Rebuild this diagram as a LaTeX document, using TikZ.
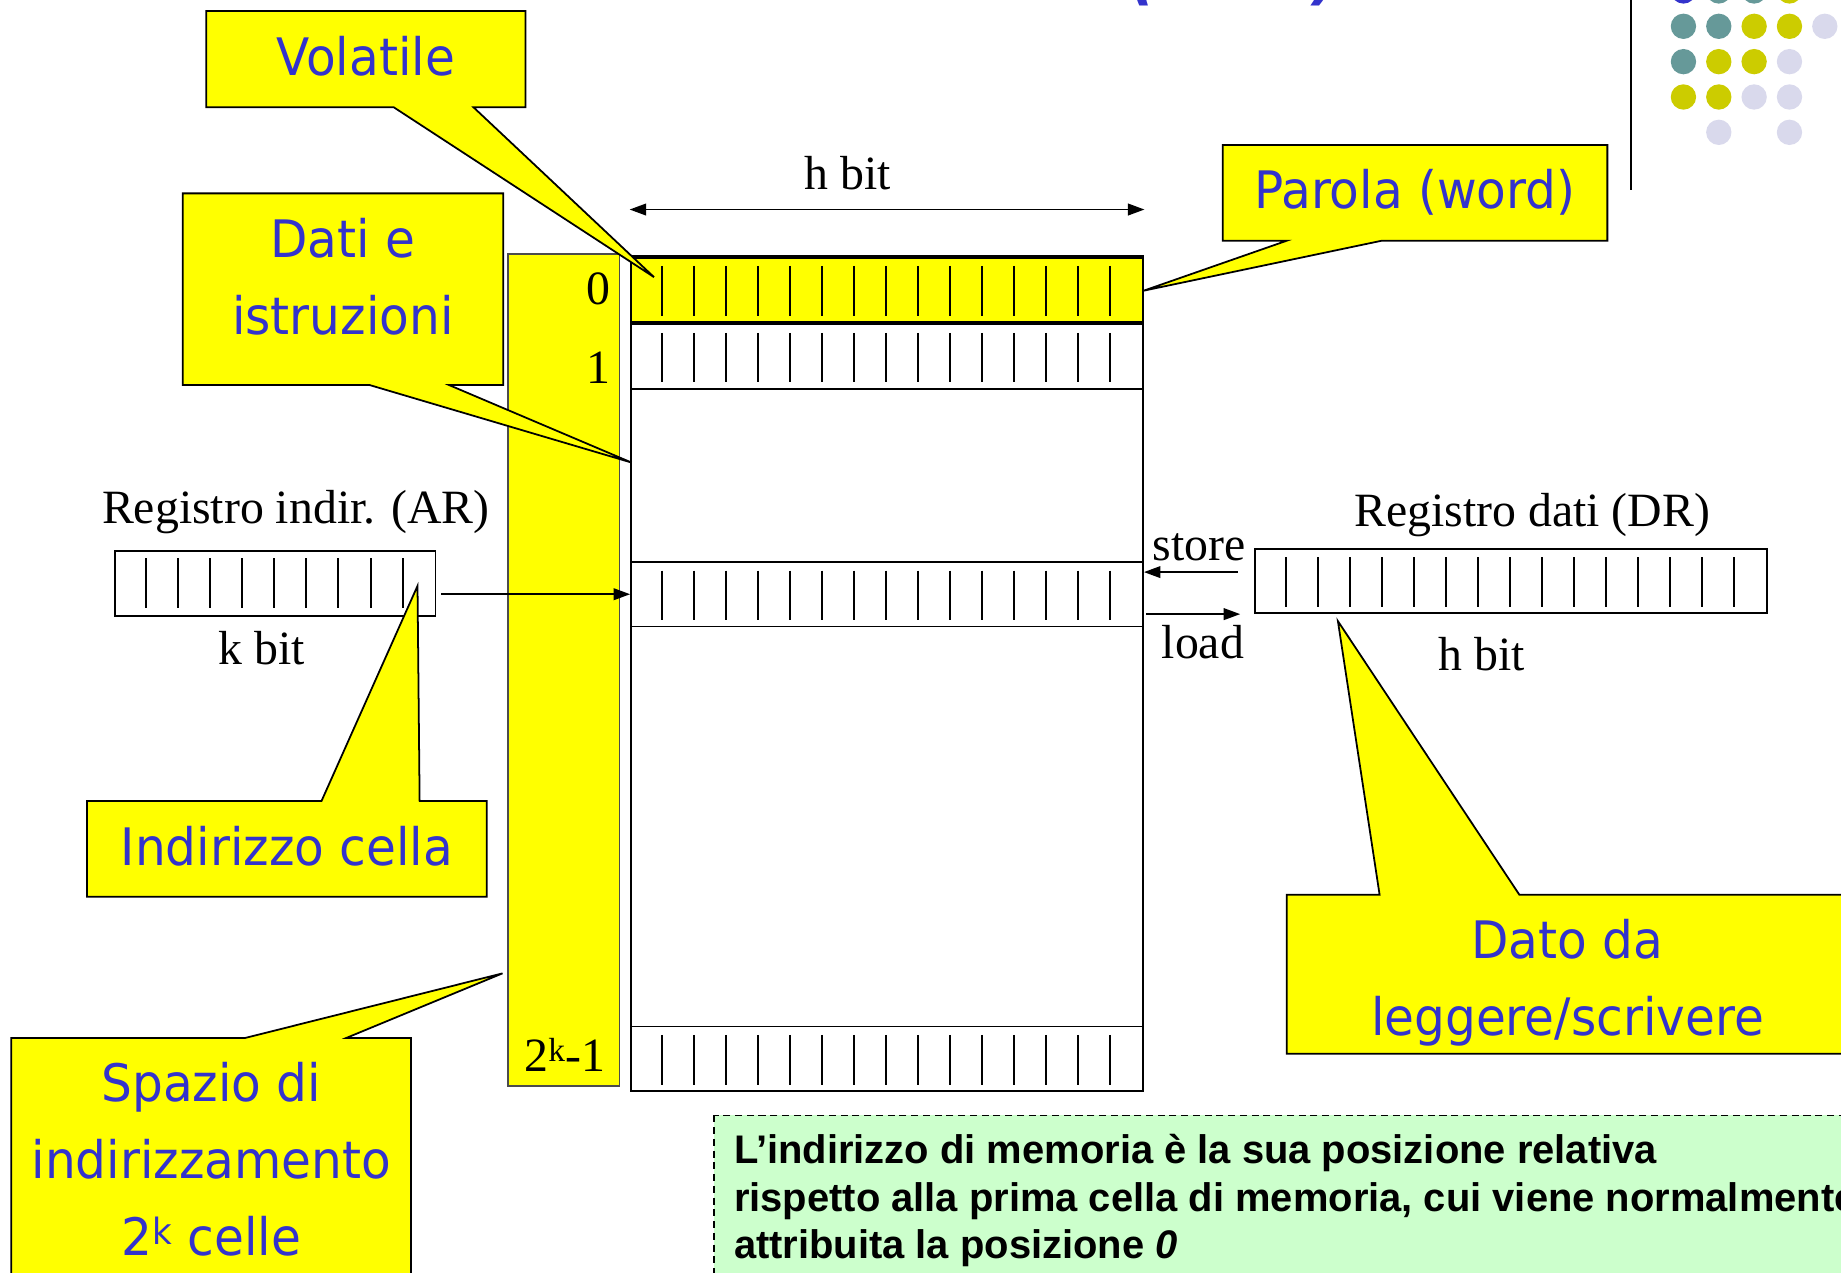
\documentclass[tikz,border=0pt]{standalone}
\usepackage{fontspec}
\setmainfont{Liberation Serif}
\newfontfamily\boxfont[FakeStretch=0.94]{DejaVu Sans}
\newfontfamily\notefont{Liberation Sans}
\usetikzlibrary{arrows.meta,positioning}
\definecolor{boxblue}{HTML}{3333CC}
\definecolor{hiyellow}{HTML}{FFFF00}
\definecolor{notegreen}{HTML}{CCFFCC}
\definecolor{dotteal}{HTML}{669999}
\definecolor{dotolive}{HTML}{CCCC00}
\definecolor{dotlilac}{HTML}{D9D9EC}
\begin{document}
\begin{tikzpicture}[x=1pt,y=-1pt,
    lbl/.style={font=\fontsize{40.7}{44}\selectfont,inner sep=0pt},
    reg/.style={draw,line width=1.5pt,minimum height=54.8pt,inner sep=0pt},
    bittick/.style={line width=1.7pt},
    callbox/.style={draw,fill=hiyellow,line width=1.5pt},
    calltext/.style={font=\boxfont\fontsize{44}{65.5}\selectfont,text=boxblue,align=center,inner sep=0pt},
    arr/.style={line width=1.3pt,>={Triangle[length=14pt,width=10pt]}}]
  \useasboundingbox (0,0) rectangle (1568,1084.2);
  \clip (0,0) rectangle (1568,1084.2);

  \node[font=\boxfont\bfseries\itshape\fontsize{55}{60}\selectfont,text=boxblue,anchor=base,inner sep=0pt]
    (title) at (1052,-2) {(RAM)};
  \draw[line width=2pt] (1389,0) -- (1389,162);
  \foreach \i/\j/\c in {0/0/boxblue,0/1/dotteal,0/2/dotteal,0/3/dotolive,
      1/0/dotteal,1/1/dotteal,1/2/dotolive,1/3/dotolive,1/4/dotlilac,
      2/0/dotteal,2/1/dotolive,2/2/dotolive,2/3/dotlilac,
      3/0/dotolive,3/1/dotolive,3/2/dotlilac,3/3/dotlilac,
      4/1/dotlilac,4/3/dotlilac}
    \fill[\c] (1433.8+30.1*\j,-7.7+30.1*\i) circle (10.8);

  \node[draw=black!70,fill=hiyellow,line width=1.3pt,minimum width=95pt,minimum height=708.6pt,inner sep=0pt]
    (addr) at (480,570.7) {};
  \node[draw,line width=1.5pt,minimum width=436.2pt,minimum height=709.8pt,inner sep=0pt]
    (mem) at (755.5,574.1) {};
  \node[reg,minimum width=436.2pt,fill=hiyellow,line width=2.2pt,anchor=north] (w0) at (mem.north) {};
  \node[reg,minimum width=436.2pt,below=0pt of w0] (w1) {};
  \node[reg,minimum width=436.2pt] (wi) at (755.5,506.1) {};
  \node[reg,minimum width=436.2pt,anchor=south] (wn) at (mem.south) {};
  \draw[line width=3pt] (w0.north west) -- (w0.north east);

  \node[reg,minimum width=272.7pt,minimum height=55.4pt] (ar) at (234.5,496.7) {};
  \node[reg,minimum width=436pt] (dr) at (1287,494.9) {};
  \foreach \r in {w0,w1,wi,wn,dr}
    \foreach \k in {1,...,15}
      \draw[bittick] ([xshift=\k*27.26pt,yshift=-8pt]\r.north west) -- ([xshift=\k*27.26pt,yshift=6pt]\r.south west);
  \foreach \k in {1,...,9}
    \draw[bittick] ([xshift=\k*27.27pt,yshift=-7pt]ar.north west) -- ([xshift=\k*27.27pt,yshift=7.5pt]ar.south west);

  \node[lbl,anchor=base east] (a0) at (520,259) {0};
  \node[lbl,anchor=base east] (a1) at (520,326.5) {1};
  \node[lbl,anchor=base east] (an) at (516,913) {2\textsuperscript{k}-1};
  \node[lbl,anchor=base] (hbit) at (722,161) {h bit};
  \node[lbl,anchor=base] (arname) at (252,446) {Registro indir. (AR)};
  \node[lbl,anchor=base] (kbit) at (223,566) {k bit};
  \node[lbl,anchor=base] (drname) at (1305,448.5) {Registro dati (DR)};
  \node[lbl,anchor=base] (hbitdr) at (1262,571) {h bit};
  \node[lbl,anchor=base] (store) at (1021.5,477) {store};
  \node[lbl,anchor=base] (load) at (1024.5,560.5) {load};

  \draw[arr,<->] ([yshift=40pt]w0.north west) -- ([yshift=40pt]w0.north east);
  \coordinate (arout) at ([xshift=4pt]ar.east);
  \draw[arr,->] (arout |- wi.west) -- (wi.west);
  \coordinate (stin) at ([xshift=-14pt,yshift=-20.5pt]dr.north west);
  \draw[arr,->] (stin) -- (stin -| wi.east);
  \coordinate (ldout) at ([xshift=-12pt]dr.south west);
  \draw[arr,->] ([xshift=2pt]ldout -| wi.east) -- (ldout);

  \draw[callbox] (175.7,9.4) -- (447.5,9.4) -- (447.5,91.4) -- (403.3,91.4) -- (557,236)
    -- (335.4,91.4) -- (175.7,91.4) -- cycle;
  \node[calltext,anchor=base] (volatile) at (311.6,64) {Volatile};
  \draw[callbox] (155.6,164.7) -- (428.6,164.7) -- (428.6,328) -- (382.6,328) -- (538,394)
    -- (315,328) -- (155.6,328) -- cycle;
  \node[calltext,anchor=base] (dati) at (292,284.5) {Dati e\\istruzioni};
  \draw[callbox] (1041.5,123.5) -- (1369,123.5) -- (1369,205) -- (1176.9,205) -- (974,247.6)
    -- (1096,205) -- (1041.5,205) -- cycle;
  \node[calltext,anchor=base] (parola) at (1205,177.5) {Parola (word)};
  \draw[callbox] (74.1,682.3) -- (273.8,682.3) -- (355.6,499) -- (357.4,682.3) -- (414.5,682.3)
    -- (414.5,763.8) -- (74.1,763.8) -- cycle;
  \node[calltext,anchor=base] (cella) at (244.3,737) {Indirizzo cella};
  \draw[callbox] (9.5,884) -- (209,884) -- (428,829) -- (295,884) -- (350,884)
    -- (350,1110) -- (9.5,1110) -- cycle;
  \node[calltext,anchor=base] (spazio) at (180,1069) {Spazio di\\indirizzamento\\2\textsuperscript{k} celle};
  \draw[callbox] (1096,762) -- (1175,762) -- (1139.5,529) -- (1294,762) -- (1580,762)
    -- (1580,897.5) -- (1096,897.5) -- cycle;
  \node[calltext,anchor=base] (dato) at (1335,881.6) {Dato da\\leggere/scrivere};

  \draw[fill=notegreen,line width=1.2pt,dash pattern=on 6pt off 4pt] (608,950) rectangle (1600,1120);
  \node[font=\notefont\bfseries\fontsize{34}{40.5}\selectfont,anchor=base west,align=left,inner sep=0pt]
    (note) at (625,1072) {L’indirizzo di memoria è la sua posizione relativa\\
    rispetto alla prima cella di memoria, cui viene normalmente\\
    attribuita la posizione \textit{0}};
\end{tikzpicture}
\end{document}
